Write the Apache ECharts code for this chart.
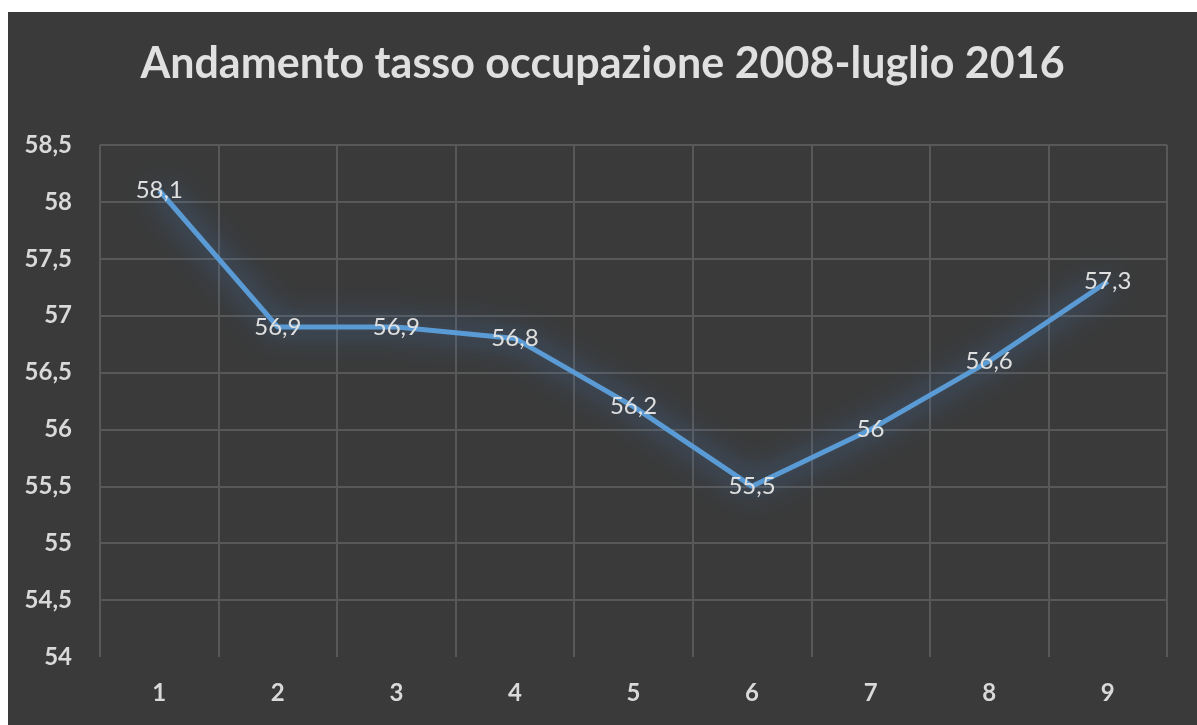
<!DOCTYPE html>
<html>
<head>
<meta charset="utf-8">
<script src="https://cdn.jsdelivr.net/npm/echarts@6/dist/echarts.min.js"></script>
<style>
  html, body { margin: 0; padding: 0; background: #ffffff; }
  #main {
    position: absolute;
    left: 8px;
    top: 12px;
    width: 1189px;
    height: 713px;
  }
</style>
</head>
<body>
<div id="main"></div>
<script>
// dati
var categorie = ['1', '2', '3', '4', '5', '6', '7', '8', '9'];
var tassoOccupazione = [58.1, 56.9, 56.9, 56.8, 56.2, 55.5, 56, 56.6, 57.3];
var titolo = 'Andamento tasso occupazione 2008-luglio 2016';

var myChart = echarts.init(document.getElementById('main'));

function virgola(v) {
    return String(v).replace('.', ',');
}

// la riga a 54 non viene disegnata nell'originale
var coloriGriglia = ['rgba(0,0,0,0)'];
for (var i = 0; i < 9; i++) coloriGriglia.push('#585858');

myChart.setOption({
    backgroundColor: '#3a3a3a',
    title: {
        text: titolo,
        left: 'center',
        top: 26,
        textStyle: {
            color: '#e0e0e0',
            fontFamily: 'Lato',
            fontWeight: 'bold',
            fontSize: 43
        }
    },
    grid: {
        left: 92,
        right: 30,
        top: 133,
        bottom: 68
    },
    xAxis: {
        type: 'category',
        data: categorie,
        boundaryGap: true,
        axisLine: { show: false },
        axisTick: { show: false },
        splitLine: {
            show: true,
            lineStyle: { color: '#585858', width: 2 }
        },
        axisLabel: {
            color: '#d9d9d9',
            fontFamily: 'Lato',
            fontWeight: 'bold',
            fontSize: 24,
            margin: 24
        }
    },
    yAxis: {
        type: 'value',
        min: 54,
        max: 58.5,
        interval: 0.5,
        axisLine: { show: false },
        axisTick: { show: false },
        splitLine: {
            show: true,
            lineStyle: { color: coloriGriglia, width: 2 }
        },
        axisLabel: {
            color: '#d9d9d9',
            fontFamily: 'Lato',
            fontWeight: 'bold',
            fontSize: 24,
            margin: 28,
            formatter: function (v) { return virgola(v); }
        }
    },
    series: [{
        type: 'line',
        data: tassoOccupazione,
        symbol: 'circle',
        symbolSize: 2,
        showSymbol: true,
        itemStyle: { color: 'rgba(0,0,0,0)' },
        lineStyle: {
            color: '#5b9bd5',
            width: 5,
            shadowColor: 'rgba(70,140,220,1)',
            shadowBlur: 30
        },
        label: {
            show: true,
            position: 'inside',
            color: '#e0e0e0',
            fontFamily: 'Lato',
            fontSize: 24,
            formatter: function (p) { return virgola(p.value); }
        },
        animation: false
    }]
});
</script>
</body>
</html>
